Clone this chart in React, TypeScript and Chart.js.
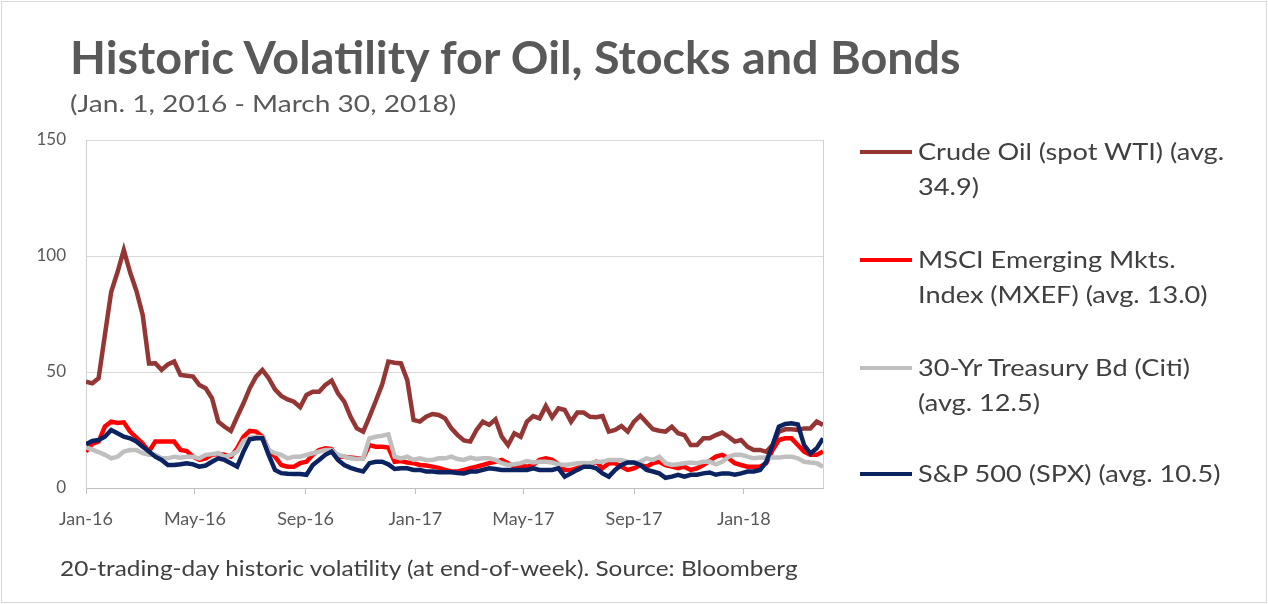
import React, { useEffect, useRef } from "react";
import { Chart, registerables } from "chart.js";

Chart.register(...registerables);

// x positions are days since Jan 1, 2016 (weekly, Fridays)
const TICK_DAYS = [0, 121, 244, 366, 486, 609, 731];
const TICK_LABELS = ["Jan-16", "May-16", "Sep-16", "Jan-17", "May-17", "Sep-17", "Jan-18"];
const LAST_DAY = 819;

const OIL = [
  45.8, 45.1, 47.3, 66, 84.6, 93, 102.6, 93, 85, 74.6, 53.7, 53.8, 50.9, 53.3, 54.5, 48.7, 48.4, 48, 44.4, 43,
  38.7, 28.6, 26.4, 24.6, 30.7, 36.5, 43, 48, 50.9, 47.3, 42.5, 39.7, 38.2, 37.2, 34.8, 40.1, 41.5, 41.5, 44.4, 46.3,
  40.8, 37.2, 30.7, 25.7, 24.3, 30.7, 37.5, 44.5, 54.5, 54, 53.7, 46.5, 29.3, 28.6, 30.7, 31.9, 31.5, 30, 25.7, 22.8,
  20.5, 20, 25, 28.6, 27.2, 29.6, 22.1, 18.5, 23.6, 22.1, 28.6, 31, 30, 35.3, 30.5, 34.3, 33.6, 28.6, 32.5, 32.5,
  30.7, 30.5, 31, 24.3, 25, 26.7, 24.3, 28.6, 31.2, 28.2, 25.3, 24.7, 24.3, 26.4, 23.6, 22.8, 18.5, 18.5, 21.4, 21.4,
  22.8, 23.9, 22.1, 20, 20.7, 17.8, 16.4, 16.4, 15.6, 18.5, 24.3, 25.3, 25.3, 25, 25.7, 25.7, 28.6, 27.2,
];

const MSCI = [
  15.7, 19, 20, 26.5, 28.6, 28, 28.3, 24.3, 21.7, 19.2, 15.7, 20, 20, 20, 20, 16.4, 15.9, 13.5, 12.1, 12.8,
  14.3, 14.6, 14.3, 13.5, 17.1, 22.1, 24.6, 24.3, 22.1, 16.4, 13.5, 9.9, 9.2, 9.2, 10.7, 11.3, 14.3, 16.4, 17.1, 16.8,
  13.5, 13.5, 13.1, 12.8, 12.8, 18.5, 17.8, 17.8, 17.4, 11.3, 11.6, 11, 10.7, 9.9, 9.7, 9.2, 8.7, 7.8, 7.1, 7.1,
  7.8, 8.5, 9.2, 9.9, 10.7, 11.3, 12.1, 10.7, 9.2, 9.7, 9.2, 9.9, 12.1, 12.8, 12.1, 10.2, 7.8, 7.8, 8.5, 9.9,
  9.9, 11.3, 8.5, 10.7, 10.7, 9.2, 7.8, 8.5, 9.9, 9.2, 10.7, 11.3, 9.9, 9.2, 8.5, 9.2, 7.8, 8.5, 9.9, 11.7,
  13.5, 14.3, 12.8, 10.7, 9.9, 9.2, 9.2, 9.2, 10.7, 16.4, 20.7, 21.4, 21.4, 18.5, 15.7, 14.3, 14.3, 15.7,
];

const TREASURY = [
  17.5, 16.5, 15.5, 14.3, 12.8, 13.5, 15.7, 16.4, 16.4, 15, 14.3, 14.3, 12.8, 12.8, 13.5, 13.1, 13.5, 13.5, 12.8, 14.3,
  14.6, 15, 13.5, 14.3, 15.7, 20.3, 21.7, 22.1, 21.7, 16.4, 15, 14.3, 12.8, 13.5, 13.5, 14.3, 15, 15.7, 16.4, 16.4,
  14.3, 13.5, 12.8, 12.5, 12.8, 21.4, 22.1, 22.5, 23.1, 13.5, 12.8, 13.5, 12.1, 12.8, 12.1, 12.1, 12.8, 12.8, 13.5, 12.5,
  12.1, 13.1, 12.5, 12.8, 12.8, 12.1, 10.7, 9.9, 10.2, 10.7, 11.6, 11, 11.3, 11.3, 11, 10.2, 9.9, 10.2, 10.7, 10.8,
  10.7, 11.3, 11.3, 12.1, 12.1, 12.1, 11.3, 10.7, 11.3, 12.8, 12.1, 13.5, 10.7, 9.9, 10.2, 10.7, 11, 10.7, 11.3, 11.4,
  10.2, 11.3, 13.5, 14.3, 14.3, 13.5, 12.8, 13.1, 13.1, 13.1, 13.1, 13.5, 13.5, 12.8, 11.3, 11, 10.7, 9.2,
];

const SPX = [
  18.8, 20.3, 20.7, 22.1, 25, 23.6, 22.1, 21.4, 20, 17.8, 15.7, 13.5, 12.1, 9.9, 9.9, 10.2, 10.7, 10.2, 9.2, 9.7,
  11.3, 12.8, 12.1, 10.7, 9.2, 15.7, 21, 21.4, 21.4, 14.3, 7.8, 6.4, 6.1, 6, 6, 5.7, 9.9, 12.1, 14.3, 15.7,
  12.1, 9.9, 8.7, 7.8, 7.1, 10.7, 11.3, 11.3, 10.2, 8.2, 8.5, 8.5, 7.8, 7.8, 7.1, 7.1, 6.8, 6.8, 6.8, 6.5,
  6.3, 7.1, 7.1, 7.8, 8.5, 8.2, 7.8, 7.8, 7.8, 7.8, 7.8, 8.5, 7.8, 7.8, 7.8, 8.5, 4.9, 6.3, 7.8, 9.2,
  9.2, 8.5, 6.3, 4.9, 7.8, 9.9, 11, 11, 9.9, 7.8, 7.1, 6.3, 4.4, 4.9, 5.7, 4.9, 5.7, 5.7, 6.3, 6.7,
  5.7, 6.3, 6.3, 5.7, 6.3, 7.1, 7.1, 7.8, 11.3, 18.5, 26.4, 27.6, 27.9, 27.4, 18.5, 14.9, 17.1, 21.4,
];

const SERIES_NAMES = [
  ["Crude Oil (spot WTI) (avg.", "34.9)"],
  ["MSCI Emerging Mkts.", "Index (MXEF) (avg. 13.0)"],
  ["30-Yr Treasury Bd (Citi)", "(avg. 12.5)"],
  ["S&P 500 (SPX) (avg. 10.5)"],
];
const COLORS = ["#943634", "#FF0000", "#BFBFBF", "#0C2362"];
const LEGEND_Y = [152, 260, 368, 474];

const FONT = "Lato, 'Open Sans', sans-serif";

export default function App() {
  const ref = useRef<HTMLCanvasElement>(null);

  useEffect(() => {
    if (!ref.current) return;
    const toPts = (arr: number[]) => arr.map((y, i) => ({ x: i * 7, y }));
    const all = [OIL, MSCI, TREASURY, SPX];
    const frame = {
      id: "frame",
      beforeDatasetsDraw(chart: any) {
        const { ctx, chartArea } = chart;
        ctx.save();
        ctx.strokeStyle = "#D0D0D0";
        ctx.lineWidth = 1;
        ctx.beginPath();
        ctx.moveTo(Math.round(chartArea.right) + 0.5, chartArea.top);
        ctx.lineTo(Math.round(chartArea.right) + 0.5, chartArea.bottom);
        ctx.stroke();
        ctx.restore();
      },
    };
    const chart = new Chart(ref.current, {
      type: "line",
      data: {
        datasets: all.map((arr, i) => ({
          label: SERIES_NAMES[i].join(" "),
          data: toPts(arr),
          borderColor: COLORS[i],
          backgroundColor: COLORS[i],
          borderWidth: 4.5,
          pointRadius: 0,
          tension: 0,
          order: 4 - i,
        })),
      },
      options: {
        animation: false,
        responsive: false,
        layout: { padding: { top: 140, right: 445, bottom: 0, left: 0 } },
        plugins: { legend: { display: false }, tooltip: { enabled: false }, title: { display: false } },
        scales: {
          x: {
            type: "linear",
            min: 0,
            max: LAST_DAY,
            afterFit(scale: any) {
              scale.height = 116;
            },
            afterBuildTicks(scale: any) {
              scale.ticks = TICK_DAYS.map((v) => ({ value: v }));
            },
            ticks: {
              autoSkip: false,
              maxRotation: 0,
              padding: 14,
              color: "#595959",
              font: { family: FONT, size: 18 },
              callback: (v: any) => {
                const k = TICK_DAYS.indexOf(Number(v));
                return k >= 0 ? TICK_LABELS[k] : "";
              },
            },
            grid: { drawOnChartArea: false, drawTicks: true, tickLength: 6, color: "#BFBFBF" },
            border: { display: true, color: "#BFBFBF" },
          },
          y: {
            min: 0,
            max: 150,
            afterFit(scale: any) {
              scale.width = 86;
            },
            ticks: {
              stepSize: 50,
              padding: 20,
              color: "#595959",
              font: { family: FONT, size: 17 },
            },
            grid: { color: "#D9D9D9", drawTicks: false },
            border: { display: true, color: "#D0D0D0" },
          },
        },
      },
      plugins: [frame],
    });
    return () => chart.destroy();
  }, []);

  const stretched = (sx: number): React.CSSProperties => ({
    transform: `scaleX(${sx})`,
    transformOrigin: "0 0",
    whiteSpace: "nowrap",
  });

  return (
    <div
      style={{
        position: "absolute",
        left: 0,
        top: 0,
        width: 1268,
        height: 604,
        background: "#fff",
        overflow: "hidden",
        fontFamily: FONT,
      }}
    >
      <div style={{ position: "absolute", left: 1, top: 1, width: 1264, height: 600, border: "1px solid #D9D9D9" }} />
      <canvas ref={ref} width={1268} height={604} style={{ position: "absolute", left: 0, top: 0, width: 1268, height: 604 }} />
      <div
        style={{
          position: "absolute",
          left: 70,
          top: 34,
          fontSize: 46,
          lineHeight: "46px",
          fontWeight: 700,
          color: "#595959",
          ...stretched(1.016),
        }}
      >
        Historic Volatility for Oil, Stocks and Bonds
      </div>
      <div
        style={{
          position: "absolute",
          left: 70,
          top: 91,
          fontSize: 24,
          lineHeight: "24px",
          color: "#595959",
          ...stretched(1.17),
        }}
      >
        (Jan. 1, 2016 - March 30, 2018)
      </div>
      {SERIES_NAMES.map((lines, i) => (
        <div key={i}>
          <div
            style={{
              position: "absolute",
              left: 860,
              top: LEGEND_Y[i] - 2,
              width: 52,
              height: 4,
              background: COLORS[i],
            }}
          />
          <div
            style={{
              position: "absolute",
              left: 918,
              top: LEGEND_Y[i] - 18,
              fontSize: 23,
              lineHeight: "35px",
              color: "#404040",
              ...stretched(1.18),
            }}
          >
            {lines.map((t, j) => (
              <div key={j}>{t}</div>
            ))}
          </div>
        </div>
      ))}
      <div
        style={{
          position: "absolute",
          left: 60,
          top: 555,
          fontSize: 21,
          lineHeight: "26px",
          color: "#404040",
          ...stretched(1.16),
        }}
      >
        20-trading-day historic volatility (at end-of-week). Source: Bloomberg
      </div>
    </div>
  );
}
